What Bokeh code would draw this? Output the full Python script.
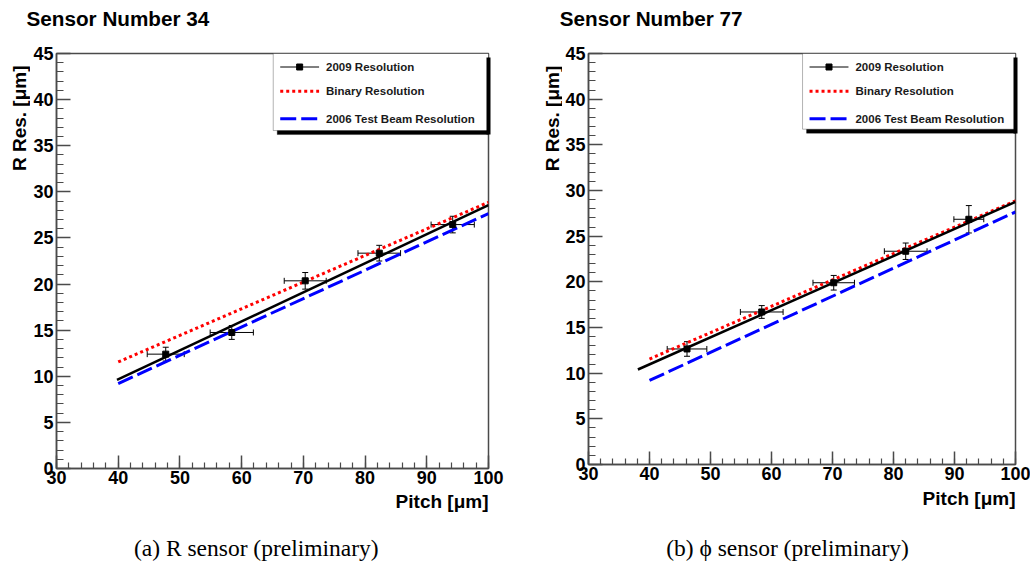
import math
from bokeh.plotting import figure
from bokeh.models import (Range1d, SingleIntervalTicker, FixedTicker, Label, BoxAnnotation,
                          Whisker, ColumnDataSource, TeeHead, LinearAxis)
from bokeh.layouts import row, column
from bokeh.embed import file_html
from bokeh.resources import INLINE

# ---------------- data ----------------
titles = ["Sensor Number 34", "Sensor Number 77"]
captions = ["(a) R sensor (preliminary)", "(b) \u03d5 sensor (preliminary)"]
y_label = "R Res. [\u03bcm]"
x_label = "Pitch [\u03bcm]"
legend_labels = ["2009 Resolution", "Binary Resolution", "2006 Test Beam Resolution"]

# Sensor 34 (R sensor)
pitch_34 = [47.7, 58.4, 70.3, 82.3, 94.2]
res_34 = [12.4, 14.75, 20.35, 23.35, 26.45]
pitch_err_34 = [3.0, 3.5, 3.4, 3.45, 3.5]
res_err_34 = [0.75, 0.75, 0.9, 0.85, 0.9]
fit_x_34 = [39.8, 100.0]
fit_y_34 = [9.6, 28.55]

# Sensor 77 (phi sensor)
pitch_77 = [46.15, 58.4, 70.2, 82.0, 92.35]
res_77 = [12.65, 16.7, 19.9, 23.35, 26.85]
pitch_err_77 = [3.25, 3.5, 3.4, 3.5, 2.45]
res_err_77 = [0.8, 0.7, 0.8, 0.9, 1.5]
fit_x_77 = [38.1, 100.0]
fit_y_77 = [10.4, 28.75]

# reference curves (same for both sensors)
binary_x = [40.0, 100.0]
binary_y = [11.55, 28.87]
testbeam_x = [40.0, 100.0]
testbeam_y = [9.2, 27.65]

X_RANGE = (30, 100)
Y_RANGE = (0, 45)

SANS = "Liberation Sans"
SERIF = "Liberation Serif"
AXIS_COL = "#4a4a4a"

PAGE_H = 563
PANEL_W = 515
TOP_H = 40        # title strip height


def text_strip(width, height, labels):
    """A blank figure whose frame is the whole canvas; labels = list of dicts in px."""
    s = figure(width=width, height=height, output_backend="svg", toolbar_location=None,
               x_range=Range1d(0, width), y_range=Range1d(0, height),
               x_axis_type=None, y_axis_type=None, min_border=0)
    s.outline_line_color = None
    s.background_fill_color = "white"
    s.border_fill_color = "white"
    for d in labels:
        s.add_layout(Label(x=d["x"], y=height - d["y"], text=d["text"], text_font=d["font"],
                           text_font_size=d["size"], text_font_style=d["style"],
                           text_color="black", text_align=d["align"],
                           text_baseline="middle", angle=d.get("angle", 0)))
    return s


def make_plot(width, height, frame, fig_x, fig_y, leg, pitch, res, perr, rerr, fit_x, fit_y):
    L, R, T, B = frame  # frame in page pixels

    def dx(px):
        return X_RANGE[0] + (px - L) / (R - L) * (X_RANGE[1] - X_RANGE[0])

    def dy(py):
        return Y_RANGE[0] + (B - py) / (B - T) * (Y_RANGE[1] - Y_RANGE[0])

    p = figure(width=width, height=height, output_backend="svg", toolbar_location=None,
               x_range=Range1d(*X_RANGE), y_range=Range1d(*Y_RANGE),
               min_border_left=int(round(L - fig_x)),
               min_border_right=int(round(fig_x + width - R)),
               min_border_top=int(round(T - fig_y)),
               min_border_bottom=int(round(fig_y + height - B)))
    p.xgrid.visible = False
    p.ygrid.visible = False
    p.outline_line_color = AXIS_COL
    p.outline_line_width = 1.5
    p.background_fill_color = "white"
    p.border_fill_color = "white"

    p.xaxis.ticker = SingleIntervalTicker(interval=10, num_minor_ticks=5)
    p.yaxis.ticker = SingleIntervalTicker(interval=5, num_minor_ticks=5)
    for ax, mj, mn in ((p.xaxis, 13, 6), (p.yaxis, 14, 7)):
        ax.major_tick_in = mj
        ax.major_tick_out = 0
        ax.minor_tick_in = mn
        ax.minor_tick_out = 0
        ax.axis_line_color = AXIS_COL
        ax.axis_line_width = 1.5
        ax.major_tick_line_color = AXIS_COL
        ax.minor_tick_line_color = AXIS_COL
        ax.major_tick_line_width = 1.5
        ax.minor_tick_line_width = 1.2
        ax.major_label_text_font = SANS
        ax.major_label_text_font_style = "bold"
        ax.major_label_text_font_size = "18px"
        ax.major_label_text_color = "black"
    p.xaxis.major_label_standoff = 2
    p.yaxis.major_label_standoff = 3

    # reference curves
    p.line(testbeam_x, testbeam_y, line_color="#0000ff", line_width=3, line_dash="16 5")
    p.line(binary_x, binary_y, line_color="#ff0000", line_width=3, line_dash="3 3")
    p.line(fit_x, fit_y, line_color="black", line_width=2.5)

    # data with error bars
    src = ColumnDataSource(dict(
        x=pitch, y=res,
        xl=[a - b for a, b in zip(pitch, perr)], xu=[a + b for a, b in zip(pitch, perr)],
        yl=[a - b for a, b in zip(res, rerr)], yu=[a + b for a, b in zip(res, rerr)]))
    p.add_layout(Whisker(source=src, base="x", lower="yl", upper="yu", dimension="height",
                         line_color="black", line_width=1,
                         upper_head=TeeHead(size=6, line_color="black", line_width=1),
                         lower_head=TeeHead(size=6, line_color="black", line_width=1)))
    p.add_layout(Whisker(source=src, base="y", lower="xl", upper="xu", dimension="width",
                         line_color="black", line_width=1,
                         upper_head=TeeHead(size=6, line_color="black", line_width=1),
                         lower_head=TeeHead(size=6, line_color="black", line_width=1)))
    p.scatter("x", "y", source=src, marker="square", size=6, color="black")

    # legend box with shadow
    lx0, lx1, ly0, ly1 = leg
    p.add_layout(BoxAnnotation(left=dx(lx0 + 4), right=dx(lx1 + 4), top=dy(ly0 + 4),
                               bottom=dy(ly1 + 4), fill_color="black", fill_alpha=1,
                               line_color="black", level="underlay"))
    p.add_layout(BoxAnnotation(left=dx(lx0), right=dx(lx1), top=dy(ly0), bottom=dy(ly1),
                               fill_color="white", fill_alpha=1, line_color="black",
                               line_width=1, level="underlay"))
    # right-hand part of the shadow, outside the frame
    p.add_layout(LinearAxis(bounds=(dy(ly1 + 4), dy(ly0 + 4)), axis_line_color="black",
                            axis_line_width=4, ticker=FixedTicker(ticks=[]),
                            major_tick_line_color=None, minor_tick_line_color=None,
                            major_label_text_font_size="0px", major_label_standoff=0,
                            major_tick_out=0, minor_tick_out=0), "right")
    rows_y = [ly0 + 13.5, ly0 + 37.7, ly0 + 65.3]
    s0, s1, tx = lx0 + 7, lx0 + 46, lx0 + 53
    p.line([dx(s0), dx(s1)], [dy(rows_y[0])] * 2, line_color="black", line_width=1)
    p.scatter([dx((s0 + s1) / 2)], [dy(rows_y[0])], marker="square", size=6, color="black")
    p.line([dx(s0), dx(s1)], [dy(rows_y[1])] * 2, line_color="#ff0000", line_width=3,
           line_dash="3 3")
    p.line([dx(s0), dx(s1)], [dy(rows_y[2])] * 2, line_color="#0000ff", line_width=3,
           line_dash="16 5")
    for lab, yy in zip(legend_labels, rows_y):
        p.add_layout(Label(x=dx(tx), y=dy(yy), text=lab, text_font=SANS,
                           text_font_style="bold", text_font_size="11.5px",
                           text_color="#1a1a1a", text_baseline="middle", text_align="left"))
    return p


def panel(x0, frame, ylab_w, main_bottom, title, title_x, ylab_cx, xlab_cy, caption,
          cap_cx, cap_cy, leg, data):
    L, R, T, B = frame
    main_h = main_bottom - TOP_H
    bot_h = PAGE_H - main_bottom
    t = text_strip(PANEL_W, TOP_H, [dict(x=title_x - x0, y=17.5, text=title, font=SANS,
                                          size="20.7px", style="bold", align="left")])
    yl = text_strip(ylab_w, main_h, [dict(x=ylab_cx - x0, y=T - TOP_H, text=y_label,
                                          font=SANS, size="19px", style="bold",
                                          align="right", angle=math.pi / 2)])
    p = make_plot(PANEL_W - ylab_w, main_h, frame, x0 + ylab_w, TOP_H, leg, *data)
    b = text_strip(PANEL_W, bot_h, [
        dict(x=R - x0, y=xlab_cy - main_bottom, text=x_label, font=SANS, size="19px",
             style="bold", align="right"),
        dict(x=cap_cx - x0, y=cap_cy - main_bottom, text=caption, font=SERIF,
             size="23.5px", style="normal", align="center")])
    return column(t, row(yl, p), b)


left = panel(0, (54.5, 488.0, 53.0, 467.7), 30, 490, titles[0], 26.0, 19.4, 501.0,
             captions[0], 255.8, 547.0, (272.0, 488.0, 53.0, 130.0),
             (pitch_34, res_34, pitch_err_34, res_err_34, fit_x_34, fit_y_34))
right = panel(515, (587.3, 1015.0, 53.3, 464.3), 47, 487, titles[1], 559.3, 552.0, 498.0,
              captions[1], 787.0, 547.0, (801.7, 1015.0, 53.3, 129.0),
              (pitch_77, res_77, pitch_err_77, res_err_77, fit_x_77, fit_y_77))

layout = row(left, right)
open("out.html", "w").write(file_html(layout, INLINE))
